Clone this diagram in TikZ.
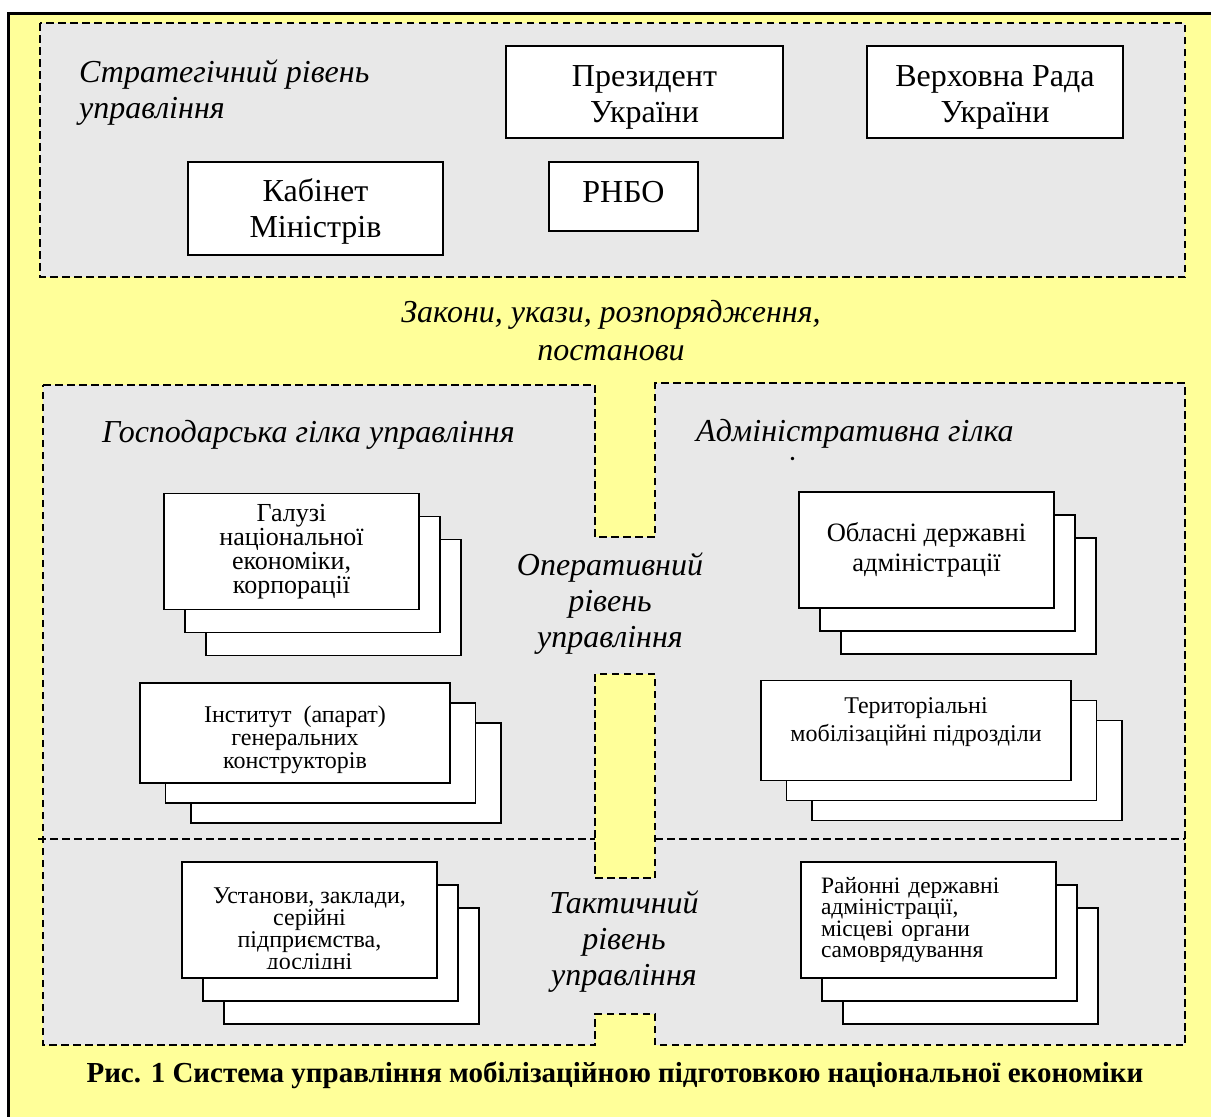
\documentclass[tikz,border=0pt]{standalone}
\usepackage{fontspec}
\setmainfont{Liberation Serif}
\usetikzlibrary{shadows}
\definecolor{sheet}{RGB}{255,255,153}
\definecolor{level}{RGB}{232,232,232}
\tikzset{%
	outer/.style={draw, line width=3pt, fill=sheet},
	dashline/.style={line width=1.4pt, dash pattern=on 7.5pt off 4.5pt},
	lvl/.style={draw, dashline, fill=level},
	gap/.style={draw, dashline, fill=sheet},
	org/.style={draw, rectangle, line width=1.6pt, fill=white, inner sep=0pt,%
		align=center, font=\fontsize{32}{36}\selectfont},
	orgs/.style={org, minimum width=255pt, minimum height=116pt,%
		font=\fontsize{26}{24}\selectfont,%
		copy shadow={shadow xshift=42pt, shadow yshift=-46pt},%
		copy shadow={shadow xshift=21pt, shadow yshift=-23pt}},
	orgw/.style={org, minimum width=310pt, minimum height=100pt,%
		font=\fontsize{24}{23}\selectfont,%
		copy shadow={shadow xshift=51pt, shadow yshift=-40pt},%
		copy shadow={shadow xshift=25.5pt, shadow yshift=-20pt}},
	lbl/.style={inner sep=0pt, font=\itshape\fontsize{32}{36}\selectfont}
}

\begin{document}
\begin{tikzpicture}[x=1pt, y=-1pt]
	\useasboundingbox (0,0) rectangle (1211,1117);
	\clip (0,0) rectangle (1211,1117);
	\path[outer] (8,13) rectangle (1240,1150);

	\path[lvl] (40,23) rectangle (1185,277);
	\node[lbl, align=left, anchor=base west] (strat) at (79,118) {Стратегічний рівень\\управління};
	\node[org, minimum width=277pt, minimum height=92pt, text height=67pt] (pres) at (644.5,92) {Президент\\України};
	\node[org, minimum width=256pt, minimum height=92pt, text height=67pt] (rada) at (995,92) {Верховна Рада\\України};
	\node[org, minimum width=255pt, minimum height=93pt, text height=64pt] (kabmin) at (315.5,208.5) {Кабінет\\Міністрів};
	\node[org, minimum width=149pt, minimum height=69pt, text depth=9pt] (rnbo) at (623.5,196.5) {РНБО};

	\node[lbl, align=center, anchor=base, font=\itshape\fontsize{32}{38}\selectfont] (acts) at (611,360) {Закони, укази, розпорядження,\\постанови};

	\path[lvl] (43,385) -- (595,385) -- (595,537) -- (655,537) -- (655,383) -- (1185,383)
		-- (1185,1045) -- (655,1045) -- (655,1014) -- (595,1014) -- (595,1045) -- (43,1045) -- cycle;
	\path[gap] (595,674) rectangle (655,878);
	\draw[dashline] (38,839) -- (595,839);
	\draw[dashline] (655,839) -- (1185,839);

	\node[lbl, anchor=base west] (gosp) at (102,442) {Господарська гілка управління};
	\node[lbl, anchor=base west] (admin) at (696,441) {Адміністративна гілка};
	\begin{scope}
		\clip (690,430) rectangle (1020,461);
		\node[lbl, anchor=base west] (admintail) at (696,478) {управління};
	\end{scope}
	\node[lbl, align=center, anchor=base] (oper) at (610,647) {Оперативний\\рівень\\управління};
	\node[lbl, align=center, anchor=base] (takt) at (624,985) {Тактичний\\рівень\\управління};

	\node[orgs] (galuzi) at (291.5,551.5) {Галузі\\національної\\економіки,\\корпорації};
	\node[orgs, font=\fontsize{26.5}{30}\selectfont] (oblasni) at (926.5,550) {Обласні державні\\адміністрації};
	\node[orgw, text height=76pt] (inst) at (295,733) {Інститут\ \ (апарат)\\генеральних\\конструкторів};
	\node[orgw, font=\fontsize{24}{28}\selectfont, text depth=22pt] (terit) at (916,730.5) {Територіальні\\мобілізаційні підрозділи};

	\node[orgs] (ustan) at (309.5,920) {};
	\begin{scope}
		\clip (ustan.north west) rectangle ([yshift=10pt]ustan.south east);
		\node[align=center, anchor=north, inner sep=0pt, font=\fontsize{24}{22}\selectfont] (ustantext)
			at (309.5,888) {Установи, заклади,\\серійні\\підприємства,\\дослідні};
	\end{scope}
	\node[orgs, align=left, text width=215pt, inner xsep=20pt, font=\fontsize{23.5}{21.5}\selectfont] (raion)
		at (928.5,920) {Районні державні\\адміністрації,\\місцеві органи\\самоврядування};

	\node[inner sep=0pt, anchor=base, font=\bfseries\fontsize{29}{32}\selectfont] (caption)
		at (615,1082) {Рис. 1 Система управління мобілізаційною підготовкою національної економіки};
\end{tikzpicture}
\end{document}
